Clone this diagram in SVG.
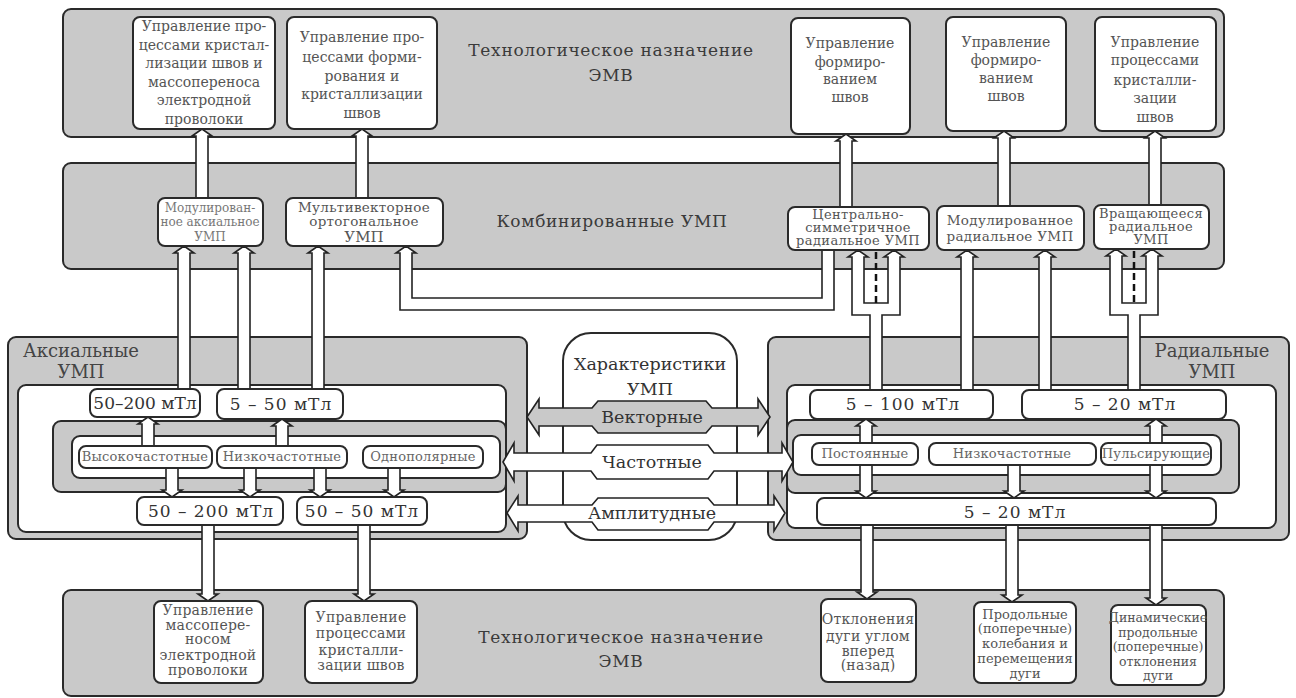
<svg xmlns="http://www.w3.org/2000/svg" width="1296" height="698" viewBox="0 0 1296 698" font-family="'DejaVu Serif','Liberation Serif',serif">
<style>
text{font-family:"DejaVu Serif","Liberation Serif",serif;text-anchor:middle}
.pn{fill:#c9c9c9;stroke:#2a2a2a;stroke-width:2}
.wp{fill:#fff;stroke:#2a2a2a;stroke-width:2}
.bx{fill:#fff;stroke:#2a2a2a;stroke-width:2}
.ar{fill:#fff;stroke:#222;stroke-width:1.6;stroke-linejoin:miter}
.ag{fill:#c9c9c9;stroke:#222;stroke-width:1.6}
.ds{stroke:#111;stroke-width:2.5;stroke-dasharray:7 4;fill:none}
.t{font-size:17px;letter-spacing:0.7px;fill:#3a3a3a}
.b{font-size:14px;fill:#555}
.s{font-size:13.5px;letter-spacing:0.3px;fill:#555}
.s3{font-size:13px;letter-spacing:0.4px;fill:#555}
.s2{font-size:12px;fill:#777}
.u{font-size:15px;fill:#555}
.v{font-size:17px;letter-spacing:1px;fill:#333}
.f{font-size:13px;letter-spacing:0.2px;fill:#666}
.c{font-size:17.5px;fill:#333}
.l{font-size:18px;fill:#444}
.d{font-size:14px;letter-spacing:0.2px;fill:#555}
.d2{font-size:13px;fill:#555}
.d3{font-size:12.5px;fill:#555}
</style>

<!-- panels -->
<g id="panel-top-purpose">
<rect class="pn" x="63" y="9" width="1161" height="128" rx="8"/>
<text class="t" x="611" y="56">Технологическое назначение</text>
<text class="t" x="611" y="81">ЭМВ</text>
</g>
<g id="panel-combined">
<rect class="pn" x="63" y="163" width="1161" height="106" rx="8"/>
<text class="t" x="612" y="227">Комбинированные УМП</text>
</g>
<g id="panel-bottom-purpose">
<rect class="pn" x="63" y="590" width="1161" height="106" rx="8"/>
<text class="t" x="621" y="643">Технологическое назначение</text>
<text class="t" x="621" y="667">ЭМВ</text>
</g>
<g id="panel-axial">
<rect class="pn" x="8" y="337" width="519" height="202" rx="8"/>
<text class="l" x="81" y="357">Аксиальные</text>
<text class="l" x="81" y="378">УМП</text>
<rect class="wp" x="18" y="385" width="488" height="147" rx="8"/>
<rect class="pn" x="53" y="421" width="453" height="71" rx="8"/>
<rect class="wp" x="72" y="436" width="428" height="42" rx="8"/>
</g>
<g id="panel-radial">
<rect class="pn" x="768" y="337" width="521" height="203" rx="8"/>
<text class="l" x="1212" y="357">Радиальные</text>
<text class="l" x="1212" y="378">УМП</text>
<rect class="wp" x="787" y="385" width="489" height="143" rx="8"/>
<rect class="pn" x="787" y="420" width="452" height="73" rx="8"/>
<rect class="wp" x="793" y="435" width="428" height="40" rx="8"/>
</g>
<g id="panel-characteristics">
<rect class="wp" x="563" y="333" width="174" height="207" rx="28"/>
<text class="c" x="650" y="370">Характеристики</text>
<text class="c" x="650" y="395">УМП</text>
</g>

<!-- connectors -->
<g id="connectors">
<path class="ar" d="M196,200 L196,136 L192,136 L202,129 L212,136 L208,136 L208,200"/>
<path class="ar" d="M356,200 L356,136 L352,136 L362,129 L372,136 L368,136 L368,200"/>
<path class="ar" d="M840,209 L840,141 L836,141 L846,134 L856,141 L852,141 L852,209"/>
<path class="ar" d="M998,208 L998,138 L994,138 L1004,131 L1014,138 L1010,138 L1010,208"/>
<path class="ar" d="M1149,207 L1149,138 L1145,138 L1155,131 L1165,138 L1161,138 L1161,207"/>
<path class="ar" d="M178,391 L178,253 L174,253 L184,246 L194,253 L190,253 L190,391"/>
<path class="ar" d="M238,391 L238,253 L234,253 L244,246 L254,253 L250,253 L250,391"/>
<path class="ar" d="M312,391 L312,253 L308,253 L318,246 L328,253 L324,253 L324,391"/>
<path class="ar" d="M834,248 L834,310 L400,310 L400,253 L396,253 L406,246 L416,253 L412,253 L412,298 L822,298 L822,248"/>
<path class="ar" d="M961,392 L961,257 L957,257 L967,250 L977,257 L973,257 L973,392"/>
<path class="ar" d="M1039,392 L1039,257 L1035,257 L1045,250 L1055,257 L1051,257 L1051,392"/>
<path class="ar" d="M870,392 L870,315 L852,315 L852,257 L848,257 L858,250 L868,257 L864,257 L864,303 L888,303 L888,257 L884,257 L894,250 L904,257 L900,257 L900,315 L882,315 L882,392"/>
<line class="ds" x1="876" y1="252" x2="876" y2="303"/>
<path class="ar" d="M1128,392 L1128,315 L1110,315 L1110,256 L1106,256 L1116,249 L1126,256 L1122,256 L1122,303 L1146,303 L1146,256 L1142,256 L1152,249 L1162,256 L1158,256 L1158,315 L1140,315 L1140,392"/>
<line class="ds" x1="1134" y1="251" x2="1134" y2="303"/>
<path class="ar" d="M142,448 L142,424 L138,424 L148,417 L158,424 L154,424 L154,448"/>
<path class="ar" d="M276,448 L276,426 L272,426 L282,419 L292,426 L288,426 L288,448"/>
<path class="ar" d="M166,466 L166,490 L162,490 L172,497 L182,490 L178,490 L178,466"/>
<path class="ar" d="M244,466 L244,490 L240,490 L250,497 L260,490 L256,490 L256,466"/>
<path class="ar" d="M314,466 L314,490 L310,490 L320,497 L330,490 L326,490 L326,466"/>
<path class="ar" d="M388,466 L388,490 L384,490 L394,497 L404,490 L400,490 L400,466"/>
<path class="ar" d="M860,445 L860,426 L856,426 L866,419 L876,426 L872,426 L872,445"/>
<path class="ar" d="M1150,445 L1150,426 L1146,426 L1156,419 L1166,426 L1162,426 L1162,445"/>
<path class="ar" d="M860,463 L860,491 L856,491 L866,498 L876,491 L872,491 L872,463"/>
<path class="ar" d="M1008,463 L1008,491 L1004,491 L1014,498 L1024,491 L1020,491 L1020,463"/>
<path class="ar" d="M1150,463 L1150,491 L1146,491 L1156,498 L1166,491 L1162,491 L1162,463"/>
<path class="ar" d="M202,523 L202,594 L198,594 L208,601 L218,594 L214,594 L214,523"/>
<path class="ar" d="M358,523 L358,594 L354,594 L364,601 L374,594 L370,594 L370,523"/>
<path class="ar" d="M861,523 L861,592 L857,592 L867,599 L877,592 L873,592 L873,523"/>
<path class="ar" d="M1006,523 L1006,595 L1002,595 L1012,602 L1022,595 L1018,595 L1018,523"/>
<path class="ar" d="M1150,523 L1150,598 L1146,598 L1156,605 L1166,598 L1162,598 L1162,523"/>
<path class="ag" d="M527,417 L539,399 L539,408 L592,408 L598,401 L706,401 L712,408 L758,408 L758,399 L770,417 L758,435 L758,426 L712,426 L706,433 L598,433 L592,426 L539,426 L539,435 Z"/>
<path class="ar" d="M503,462 L514,443 L514,453 L591,453 L597,445 L708,445 L714,453 L782,453 L782,443 L793,462 L782,481 L782,471 L714,471 L708,479 L597,479 L591,471 L514,471 L514,481 Z"/>
<path class="ar" d="M507,513 L518,496 L518,505 L592,505 L598,498 L708,498 L714,505 L774,505 L774,496 L785,513 L774,531 L774,522 L714,522 L708,530 L598,530 L592,522 L518,522 L518,531 Z"/>
<text class="c" x="652" y="423">Векторные</text>
<text class="c" x="652" y="468">Частотные</text>
<text class="c" x="652" y="519">Амплитудные</text>
</g>

<g id="top-1">
<rect class="bx" x="133" y="17" width="142" height="112" rx="7"/>
<text class="b" x="204" y="31">Управление про-</text>
<text class="b" x="204" y="49.5">цессами кристал-</text>
<text class="b" x="204" y="68">лизации швов и</text>
<text class="b" x="204" y="86.5">массопереноса</text>
<text class="b" x="204" y="105">электродной</text>
<text class="b" x="204" y="123.5">проволоки</text>
</g>
<g id="top-2">
<rect class="bx" x="287" y="17" width="150" height="112" rx="7"/>
<text class="b" x="362" y="42">Управление про-</text>
<text class="b" x="362" y="62">цессами форми-</text>
<text class="b" x="362" y="81">рования и</text>
<text class="b" x="362" y="99">кристаллизации</text>
<text class="b" x="362" y="118">швов</text>
</g>
<g id="top-3">
<rect class="bx" x="791" y="18" width="119" height="116" rx="7"/>
<text class="b" x="850" y="48">Управление</text>
<text class="b" x="850" y="67">формиро-</text>
<text class="b" x="850" y="84">ванием</text>
<text class="b" x="850" y="102">швов</text>
</g>
<g id="top-4">
<rect class="bx" x="946" y="17" width="120" height="114" rx="7"/>
<text class="b" x="1006" y="47">Управление</text>
<text class="b" x="1006" y="65">формиро-</text>
<text class="b" x="1006" y="83">ванием</text>
<text class="b" x="1006" y="101">швов</text>
</g>
<g id="top-5">
<rect class="bx" x="1095" y="17" width="121" height="114" rx="7"/>
<text class="b" x="1155" y="47">Управление</text>
<text class="b" x="1155" y="65">процессами</text>
<text class="b" x="1155" y="85">кристалли-</text>
<text class="b" x="1155" y="103">зации</text>
<text class="b" x="1155" y="122">швов</text>
</g>

<g id="comb-mod-axial">
<rect class="bx" x="158" y="198" width="105" height="48" rx="7"/>
<text class="s2" x="210" y="212">Модулирован-</text>
<text class="s2" x="210" y="226">ное аксиальное</text>
<text class="s2" x="210" y="241">УМП</text>
</g>
<g id="comb-multivector">
<rect class="bx" x="286" y="198" width="157" height="48" rx="7"/>
<text class="s" x="364" y="212">Мультивекторное</text>
<text class="s" x="364" y="226">ортогональное</text>
<text class="u" x="364" y="242">УМП</text>
</g>
<g id="comb-central">
<rect class="bx" x="788" y="207" width="141" height="43" rx="7"/>
<text class="s3" x="858" y="219">Центрально-</text>
<text class="s3" x="858" y="232">симметричное</text>
<text class="s3" x="858" y="245">радиальное УМП</text>
</g>
<g id="comb-mod-radial">
<rect class="bx" x="937" y="206" width="147" height="44" rx="7"/>
<text class="s" x="1010" y="225">Модулированное</text>
<text class="s" x="1010" y="241">радиальное УМП</text>
</g>
<g id="comb-rotating">
<rect class="bx" x="1094" y="205" width="115" height="44" rx="7"/>
<text class="s3" x="1151" y="218">Вращающееся</text>
<text class="s3" x="1151" y="231">радиальное</text>
<text class="s3" x="1151" y="244">УМП</text>
</g>

<g id="ax-50-200-top">
<rect class="bx" x="90" y="389" width="110" height="28" rx="7"/>
<text class="v" x="145" y="409" style="letter-spacing:0">50–200 мТл</text>
</g>
<g id="ax-5-50-top">
<rect class="bx" x="217" y="389" width="126" height="30" rx="7"/>
<text class="v" x="281" y="410">5 – 50 мТл</text>
</g>
<g id="ax-high">
<rect class="bx" x="79" y="446" width="133" height="22" rx="7"/>
<text class="f" x="145" y="461">Высокочастотные</text>
</g>
<g id="ax-low">
<rect class="bx" x="217" y="446" width="130" height="22" rx="7"/>
<text class="f" x="282" y="461">Низкочастотные</text>
</g>
<g id="ax-unipolar">
<rect class="bx" x="363" y="446" width="120" height="22" rx="7"/>
<text class="f" x="423" y="461">Однополярные</text>
</g>
<g id="ax-50-200-bot">
<rect class="bx" x="137" y="497" width="146" height="28" rx="7"/>
<text class="v" x="211" y="517">50 – 200 мТл</text>
</g>
<g id="ax-50-50-bot">
<rect class="bx" x="297" y="497" width="130" height="28" rx="7"/>
<text class="v" x="362" y="517">50 – 50 мТл</text>
</g>

<g id="rad-5-100">
<rect class="bx" x="810" y="390" width="183" height="29" rx="7"/>
<text class="v" x="903" y="410">5 – 100 мТл</text>
</g>
<g id="rad-5-20-top">
<rect class="bx" x="1022" y="390" width="204" height="29" rx="7"/>
<text class="v" x="1125" y="410">5 – 20 мТл</text>
</g>
<g id="rad-const">
<rect class="bx" x="812" y="443" width="106" height="22" rx="7"/>
<text class="f" x="865" y="458">Постоянные</text>
</g>
<g id="rad-low">
<rect class="bx" x="929" y="443" width="167" height="22" rx="7"/>
<text class="f" x="1012" y="458">Низкочастотные</text>
</g>
<g id="rad-pulse">
<rect class="bx" x="1101" y="443" width="110" height="22" rx="7"/>
<text class="f" x="1156" y="458">Пульсирующие</text>
</g>
<g id="rad-5-20-bot">
<rect class="bx" x="817" y="498" width="399" height="27" rx="7"/>
<text class="v" x="1015" y="518">5 – 20 мТл</text>
</g>

<g id="bot-1">
<rect class="bx" x="154" y="601" width="109" height="82" rx="7"/>
<text class="d" x="208" y="615">Управление</text>
<text class="d" x="208" y="630">массопере-</text>
<text class="d" x="208" y="644">носом</text>
<text class="d" x="208" y="660">электродной</text>
<text class="d" x="208" y="675">проволоки</text>
</g>
<g id="bot-2">
<rect class="bx" x="305" y="601" width="112" height="82" rx="7"/>
<text class="d" x="361" y="622">Управление</text>
<text class="d" x="361" y="638">процессами</text>
<text class="d" x="361" y="655">кристалли-</text>
<text class="d" x="361" y="670">зации швов</text>
</g>
<g id="bot-3">
<rect class="bx" x="821" y="599" width="95" height="83" rx="7"/>
<text class="d" x="868" y="624">Отклонения</text>
<text class="d" x="868" y="641">дуги углом</text>
<text class="d" x="868" y="656">вперед</text>
<text class="d" x="868" y="670">(назад)</text>
</g>
<g id="bot-4">
<rect class="bx" x="974" y="602" width="102" height="81" rx="7"/>
<text class="d2" x="1025" y="619">Продольные</text>
<text class="d2" x="1025" y="633">(поперечные)</text>
<text class="d2" x="1025" y="648">колебания и</text>
<text class="d2" x="1025" y="663">перемещения</text>
<text class="d2" x="1025" y="678">дуги</text>
</g>
<g id="bot-5">
<rect class="bx" x="1111" y="605" width="95" height="80" rx="7"/>
<text class="d3" x="1158" y="622">Динамические</text>
<text class="d3" x="1158" y="637">продольные</text>
<text class="d3" x="1158" y="651">(поперечные)</text>
<text class="d3" x="1158" y="666">отклонения</text>
<text class="d3" x="1158" y="680">дуги</text>
</g>
</svg>
